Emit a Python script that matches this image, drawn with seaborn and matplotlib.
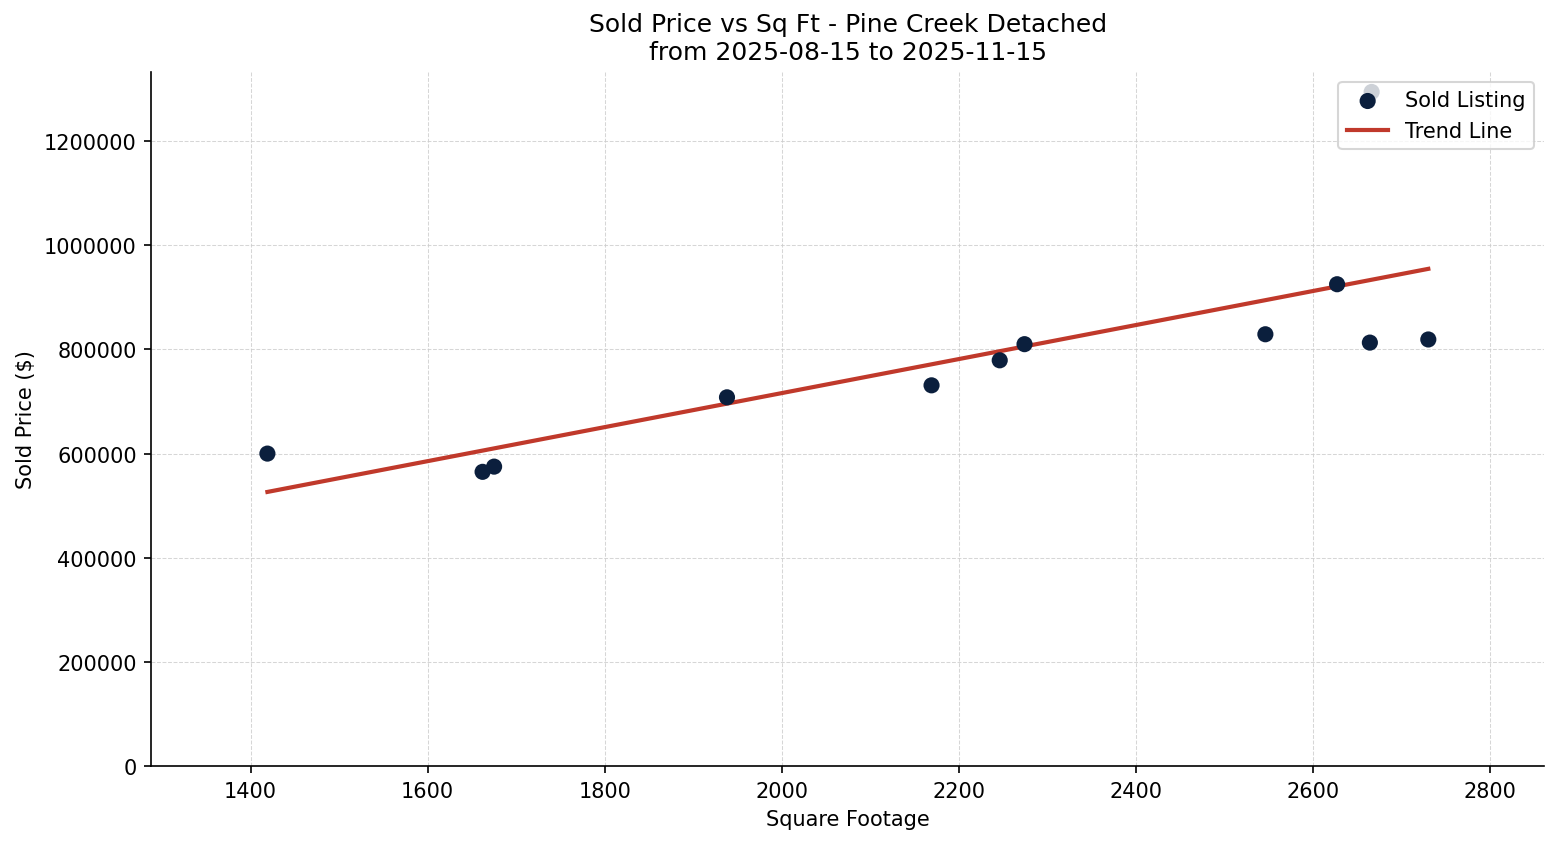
import numpy as np
import pandas as pd
import matplotlib
matplotlib.use("Agg")
import matplotlib.pyplot as plt
import seaborn as sns

# sold listings
sqft = [1419, 1662, 1675, 1938, 2169, 2246, 2274, 2546, 2627, 2664, 2730, 2666]
price = [600000, 565000, 575000, 708000, 731000, 779000, 810000, 829000, 925000, 813000, 819000, 1294000]

df = pd.DataFrame({"sqft": sqft, "price": price})

fig, ax = plt.subplots(figsize=(10.4, 5.633), dpi=150)
sns.scatterplot(data=df, x="sqft", y="price", color="#0b1f3d", s=60, edgecolor="none",
                label="Sold Listing", ax=ax, zorder=3)
sns.regplot(data=df, x="sqft", y="price", scatter=False, ci=None, ax=ax,
            label="Trend Line", line_kws={"color": "#c0392b", "linewidth": 2.0})

rng = df["sqft"].max() - df["sqft"].min()
ax.set_xlim(df["sqft"].min() - 0.1 * rng, df["sqft"].max() + 0.1 * rng)
ax.set_ylim(0, df["price"].max() * 1.03)
ax.ticklabel_format(axis="y", style="plain")

ax.grid(True, linestyle="--", linewidth=0.5, color="#cccccc", alpha=0.8)
ax.set_axisbelow(True)
sns.despine(ax=ax)

ax.set_title("Sold Price vs Sq Ft - Pine Creek Detached\nfrom 2025-08-15 to 2025-11-15", fontsize=12)
ax.set_xlabel("Square Footage")
ax.set_ylabel("Sold Price ($)")
ax.legend(loc="upper right")

fig.subplots_adjust(left=0.097, right=0.990, top=0.914, bottom=0.092)
plt.savefig("out.png")
